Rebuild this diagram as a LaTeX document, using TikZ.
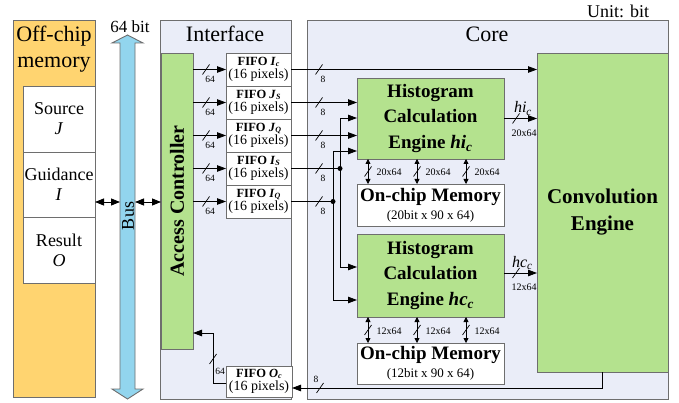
\documentclass[tikz,border=0pt]{standalone}
\usepackage{fontspec}
\setmainfont{Liberation Serif}
\usetikzlibrary{arrows.meta,calc}
\definecolor{offorange}{RGB}{255,212,112}
\definecolor{engreen}{RGB}{180,226,142}
\definecolor{busblue}{RGB}{146,213,238}
\definecolor{panelbg}{RGB}{234,237,248}
\definecolor{edgegray}{RGB}{110,110,110}
\newcommand\fsz[2]{\fontsize{#1}{#2}\selectfont}
\newcommand\fsub[1]{\raisebox{-1.2pt}{\fsz{8}{8}\textit{#1}}}
\newcommand\bitmark[2]{\draw[black,line width=0.7pt] (#1-3.5,#2+5) -- (#1+3.5,#2-5);}
\begin{document}
\begin{tikzpicture}[x=1pt,y=-1pt,line width=0.8pt,
  every node/.style={inner sep=0pt,outer sep=0pt},
  panel/.style={draw=edgegray,fill=panelbg,anchor=north west,line width=0.9pt},
  wbox/.style={draw=edgegray,fill=white,anchor=north west,line width=0.9pt,align=center},
  gbox/.style={draw=edgegray,fill=engreen,anchor=north west,line width=0.9pt,align=center},
  arr/.style={-{Triangle[length=9pt,width=6.5pt]},line width=0.8pt},
  darr/.style={{Triangle[length=9pt,width=7pt]}-{Triangle[length=9pt,width=7pt]},line width=0.8pt},
  marr/.style={{Triangle[length=5pt,width=5pt]}-{Triangle[length=5pt,width=5pt]},line width=0.8pt},
  dot/.style={circle,fill=black,minimum size=5pt},
  tiny/.style={font=\fsz{9.5}{10}},
  small/.style={font=\fsz{10}{10}},
  fifo/.style={wbox,minimum width=65,minimum height=33,font=\fsz{14}{13.5}}]
\useasboundingbox (0,0) rectangle (679,403);
% panels
\node[panel,fill=offorange,minimum width=82,minimum height=377] (off) at (13,20) {};
\node[panel,minimum width=131,minimum height=379] (intf) at (160,20) {};
\node[panel,minimum width=361,minimum height=379] (core) at (307,20) {};
\node[font=\fsz{22}{26},anchor=base] (offt1) at (54,42) {Off-chip};
\node[font=\fsz{22}{26},anchor=base] (offt2) at (54,68) {memory};
\node[font=\fsz{22}{26},anchor=base] (intft) at (225,42) {Interface};
\node[font=\fsz{22}{26},anchor=base] (coret) at (487,42) {Core};
\node[font=\fsz{18}{18},anchor=base] (unit) at (618,18) {Unit: bit};
% memory contents
\node[wbox,minimum width=72,minimum height=66,font=\fsz{18}{20}] (src) at (23,86) {Source\\\textit{J}};
\node[wbox,minimum width=72,minimum height=65,font=\fsz{18}{20}] (gui) at (23,152) {Guidance\\\textit{I}};
\node[wbox,minimum width=72,minimum height=66,font=\fsz{18}{20}] (res) at (23,217) {Result\\\textit{O}};
% bus
\filldraw[fill=busblue,draw=edgegray,line width=0.9pt] (120,43) -- (112,43) -- (127.5,35) -- (143,43) -- (135,43) -- (135,389) -- (143,389) -- (127.5,399) -- (112,389) -- (120,389) -- cycle;
\node[minimum width=15,minimum height=346,anchor=north west] (bus) at (120,43) {};
\node[font=\fsz{17}{17},anchor=base] (busw) at (130,33) {64 bit};
\node[font=\fsz{18}{18},rotate=90] (busl) at (128,216) {Bus};
% access controller
\node[gbox,minimum width=32,minimum height=296] (ac) at (161,53) {};
\node[font=\fsz{20}{20}\bfseries,rotate=90] (acl) at (177,201) {Access Controller};
% FIFOs
\node[fifo] (fic) at (226,53) {{\fsz{12.5}{13}\bfseries FIFO \textit{I}\fsub{c}}\\(16 pixels)};
\node[fifo] (fjs) at (226,86) {{\fsz{12.5}{13}\bfseries FIFO \textit{J}\fsub{S}}\\(16 pixels)};
\node[fifo] (fjq) at (226,119) {{\fsz{12.5}{13}\bfseries FIFO \textit{J}\fsub{Q}}\\(16 pixels)};
\node[fifo] (fis) at (226,152) {{\fsz{12.5}{13}\bfseries FIFO \textit{I}\fsub{S}}\\(16 pixels)};
\node[fifo] (fiq) at (226,185) {{\fsz{12.5}{13}\bfseries FIFO \textit{I}\fsub{Q}}\\(16 pixels)};
\node[fifo,minimum width=66,minimum height=31] (foc) at (226,366) {{\fsz{12.5}{13}\bfseries FIFO \textit{O}\fsub{c}}\\(16 pixels)};
% engines and memories
\node[gbox,minimum width=147,minimum height=81,font=\fsz{19}{25.5}\bfseries] (hi) at (357,78) {Histogram\\Calculation\\Engine \textit{hi}\textsubscript{\textit{c}}};
\node[wbox,minimum width=147,minimum height=42,font=\fsz{13}{18}] (m1) at (357,184) {{\fsz{19}{18}\bfseries On-chip Memory}\\(20bit x 90 x 64)};
\node[gbox,minimum width=147,minimum height=83,font=\fsz{19}{25.5}\bfseries] (hc) at (357,234) {Histogram\\Calculation\\Engine \textit{hc}\textsubscript{\textit{c}}};
\node[wbox,minimum width=147,minimum height=41,font=\fsz{13}{18}] (m2) at (357,343) {{\fsz{19}{18}\bfseries On-chip Memory}\\(12bit x 90 x 64)};
\node[gbox,minimum width=131,minimum height=319,font=\fsz{21}{27}\bfseries] (conv) at (537,53) {Convolution\\Engine};
% bus connections
\coordinate (ybus) at (0,202);
\draw[darr] (off.east |- ybus) -- (bus.west |- ybus);
\draw[darr] (bus.east |- ybus) -- (ac.west |- ybus);
% AC to FIFOs
\foreach \f in {fic,fjs,fjq,fis,fiq} {\draw[arr] (ac.east |- \f.west) -- (\f.west);}
\foreach \y in {69.5,102.5,135.5,168.5,201.5} {\bitmark{206}{\y} \node[tiny] at (210,\y+10) {64}; \bitmark{319}{\y} \node[tiny] at (323,\y+10) {8};}
% FIFO outputs
\draw[arr] (fic.east) -- (conv.west |- fic.east);
\draw[arr] (fjs.east) -- (hi.west |- fjs.east);
\draw[arr] (fjq.east) -- (hi.west |- fjq.east);
\coordinate (jIs) at (340,168.5);
\coordinate (jIQ) at (333,201.5);
\coordinate (hiIs) at (357,118);
\coordinate (hiIQ) at (357,151);
\coordinate (hcIs) at (357,267);
\coordinate (hcIQ) at (357,300);
\draw (fis.east) -- (jIs);
\draw (fiq.east) -- (jIQ);
\draw[arr] (jIs) |- (hiIs);
\draw[arr] (jIs) |- (hcIs);
\draw[arr] (jIQ) |- (hiIQ);
\draw[arr] (jIQ) |- (hcIQ);
\node[dot] (dIs) at (jIs) {};
\node[dot] (dIQ) at (jIQ) {};
% engine outputs
\draw[arr] (hi.east) -- (conv.west |- hi.east);
\bitmark{516}{118.5}
\node[font=\fsz{16}{16}\itshape,anchor=base west] (hil) at (514,113) {hi\textsubscript{c}};
\node[small] at (524,133) {20x64};
\coordinate (yhc) at (0,273);
\draw[arr] (hc.east |- yhc) -- (conv.west |- yhc);
\bitmark{516}{273}
\node[font=\fsz{16}{16}\itshape,anchor=base west] (hcl) at (512,267) {hc\textsubscript{c}};
\node[small] at (524,287) {12x64};
% memory links
\foreach \dx in {11,60,109} {
  \draw[marr] ([xshift=\dx pt]hi.south west) -- ([xshift=\dx pt]m1.north west);
  \draw[marr] ([xshift=\dx pt]hc.south west) -- ([xshift=\dx pt]m2.north west);
  \bitmark{357+\dx}{171.5}
  \bitmark{357+\dx}{330}
  \node[small] at (378+\dx,172.5) {20x64};
  \node[small] at (378+\dx,331) {12x64};
}
% result path
\coordinate (yoc) at (0,388);
\draw[arr] (conv.south) |- (foc.east |- yoc);
\bitmark{320}{388}
\node[tiny] at (316,379) {8};
\coordinate (acin) at (193,333);
\coordinate (ocx) at (213,0);
\draw[arr] ([yshift=-1.5pt]foc.west) -| (ocx |- acin) -- (ac.east |- acin);
\bitmark{213}{359}
\node[tiny] at (220,371) {64};
\end{tikzpicture}
\end{document}
